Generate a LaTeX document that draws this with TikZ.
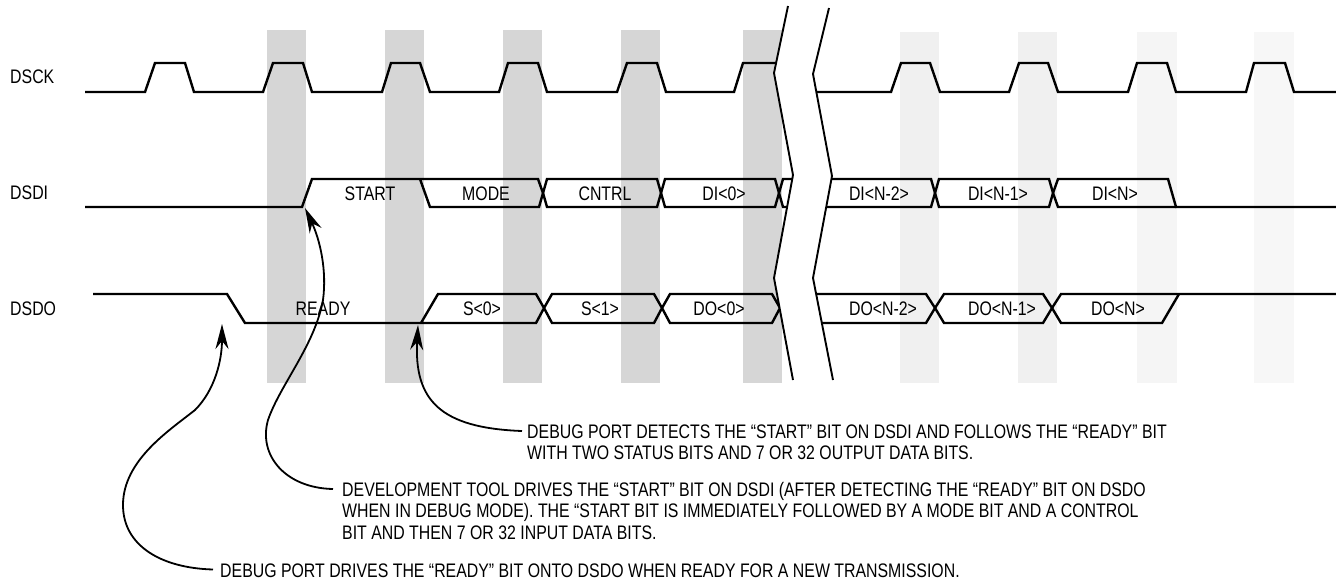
\documentclass[tikz,border=0pt]{standalone}
\usepackage{fontspec}
\setmainfont{Liberation Sans}[FakeStretch=0.81]
\usetikzlibrary{arrows.meta}
\begin{document}
\begin{tikzpicture}[x=1pt,y=-1pt,
  sig/.style={line width=2.4pt, line join=miter},
  brk/.style={line width=1.9pt},
  banddk/.style={fill=black!16},
  lead/.style={line width=1.8pt, -{Stealth[length=25pt,width=13pt,inset=8pt]}},
  lbl/.style={font=\fontsize{19.6}{21}\selectfont, inner sep=0pt, anchor=base west},
  cell/.style={font=\fontsize{19.6}{21}\selectfont, inner sep=0pt, anchor=base},
  note/.style={font=\fontsize{19.6}{21}\selectfont, inner sep=0pt, anchor=base west}]
\useasboundingbox (0,0) rectangle (1336,582);
% shaded clock bands
\foreach \a in {267,385,503,621,743} \fill[banddk] (\a,30) rectangle ++(39,353);
\fill[black!6] (900,32) rectangle (939,383);
\fill[black!6] (1018,32) rectangle (1057,383);
\fill[black!4] (1137,32) rectangle (1177,383);
\fill[black!3] (1254,32) rectangle (1294,383);
% DSCK
\draw[sig] (85,92) -- (145,92) -- (155,63) -- (185,63) -- (194,92) -- (263,92) -- (273,63) -- (303,63) -- (312,92)
  -- (382,92) -- (391,63) -- (420,63) -- (430,92) -- (499,92) -- (508,63) -- (538,63) -- (547,92)
  -- (617,92) -- (627,63) -- (657,63) -- (666,92) -- (734,92) -- (743,63) -- (800,63);
\draw[sig] (800,92) -- (891,92) -- (901,63) -- (930,63) -- (940,92) -- (1009,92) -- (1019,63) -- (1048,63) -- (1058,92)
  -- (1128,92) -- (1137,63) -- (1167,63) -- (1176,92) -- (1246,92) -- (1254,63) -- (1285,63) -- (1294,92) -- (1336,92);
% DSDI
\draw[sig] (85,207) -- (302,207) -- (312,179) -- (538,179) -- (543,193) -- (539,207) -- (430,207) -- (420,179);
\draw[sig] (543,193) -- (547,179) -- (657,179) -- (661,193) -- (657,207) -- (547,207) -- cycle;
\draw[sig] (661,193) -- (665,179) -- (775,179) -- (779,193) -- (775,207) -- (665,207) -- cycle;
\draw[sig] (800,179) -- (783,179) -- (779,193) -- (783,207) -- (800,207);
\draw[sig] (800,179) -- (931,179) -- (935,193) -- (931,207) -- (800,207);
\draw[sig] (935,193) -- (939,179) -- (1049,179) -- (1053,193) -- (1049,207) -- (939,207) -- cycle;
\draw[sig] (1053,193) -- (1058,179) -- (1168,179) -- (1176,207) -- (1336,207);
\draw[sig] (1053,193) -- (1058,207) -- (1176,207);
% DSDO
\draw[sig] (93,294) -- (227,294) -- (245,323) -- (536,323) -- (544,308) -- (536,294) -- (438,294) -- (421,323);
\draw[sig] (544,308) -- (552,294) -- (654,294) -- (662,308) -- (654,323) -- (552,323) -- cycle;
\draw[sig] (662,308) -- (670,294) -- (772,294) -- (780,308) -- (772,323) -- (670,323) -- cycle;
\draw[sig] (800,294) -- (926,294) -- (935,308) -- (926,323) -- (800,323);
\draw[sig] (935,308) -- (944,294) -- (1043,294) -- (1052,308) -- (1043,323) -- (944,323) -- cycle;
\draw[sig] (1052,308) -- (1061,294) -- (1336,294);
\draw[sig] (1052,308) -- (1061,323) -- (1162,323) -- (1179,294);
% time break
\fill[white] (788,6) -- (774,73) -- (793,175) -- (774,278) -- (793,380) -- (833,380) -- (813,278) -- (832,176) -- (813,74) -- (829,8) -- cycle;
\draw[brk] (788,6) -- (774,73) -- (793,175) -- (774,278) -- (793,380);
\draw[brk] (829,8) -- (813,74) -- (832,176) -- (813,278) -- (833,380);
% signal names
\node[lbl] (dsck) at (10,83) {DSCK};
\node[lbl] (dsdi) at (10,199.5) {DSDI};
\node[lbl] (dsdo) at (10,315) {DSDO};
% cell labels
\node[cell] (start) at (370,200) {START};
\node[cell] (mode) at (486,200) {MODE};
\node[cell] (cntrl) at (605,200) {CNTRL};
\node[cell] (di0) at (724,200) {DI<0>};
\node[cell] (din2) at (879,200) {DI<N-2>};
\node[cell] (din1) at (998,200) {DI<N-1>};
\node[cell] (din) at (1115,200) {DI<N>};
\node[cell] (ready) at (323,315) {READY};
\node[cell] (s0) at (482,315) {S<0>};
\node[cell] (s1) at (600,315) {S<1>};
\node[cell] (do0) at (719,315) {DO<0>};
\node[cell] (don2) at (883,315) {DO<N-2>};
\node[cell] (don1) at (1002,315) {DO<N-1>};
\node[cell] (don) at (1118,315) {DO<N>};
% annotations
\node[note] (n1a) at (527,438) {DEBUG PORT DETECTS THE “START” BIT ON DSDI AND FOLLOWS THE “READY” BIT};
\node[note] (n1b) at (527,459.5) {WITH TWO STATUS BITS AND 7 OR 32 OUTPUT DATA BITS.};
\node[note] (n2a) at (342,496) {DEVELOPMENT TOOL DRIVES THE “START” BIT ON DSDI (AFTER DETECTING THE “READY” BIT ON DSDO};
\node[note] (n2b) at (342,517.5) {WHEN IN DEBUG MODE). THE “START BIT IS IMMEDIATELY FOLLOWED BY A MODE BIT AND A CONTROL};
\node[note] (n2c) at (342,539) {BIT AND THEN 7 OR 32 INPUT DATA BITS.};
\node[note] (n3) at (220,577.5) {DEBUG PORT DRIVES THE “READY” BIT ONTO DSDO WHEN READY FOR A NEW TRANSMISSION.};
% leader tips
\coordinate (tipR) at (222,324);
\coordinate (tipS) at (305,208);
\coordinate (tipD) at (418,325);
% leaders
\draw[lead] ([shift={(-5,-7)}]n1a.base west) .. controls (440,428) and (414,400) .. (tipD);
\draw[lead] ([shift={(-9,-7)}]n2a.base west) .. controls (285,488) and (258,455) .. (268,420)
  .. controls (280,385) and (315,345) .. (323,300) .. controls (327,270) and (320,240) .. (tipS);
\draw[lead] ([shift={(-7,-8)}]n3.base west) .. controls (160,568) and (123,545) .. (123,505)
  .. controls (123,460) and (170,430) .. (195,410) .. controls (215,390) and (222,360) .. (tipR);
\end{tikzpicture}
\end{document}
